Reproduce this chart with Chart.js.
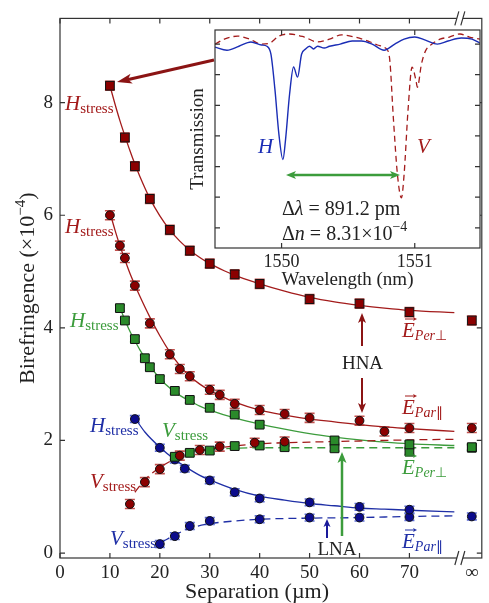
<!DOCTYPE html>
<html>
<head>
<meta charset="utf-8">
<script src="https://cdn.jsdelivr.net/npm/chart.js@4.4.0/dist/chart.umd.min.js"></script>
<style>
  html, body { margin: 0; padding: 0; background: #fff; }
  #wrap { position: relative; width: 489px; height: 603px; }
  #main { position: absolute; left: 0; top: 0; }
  #inset { position: absolute; left: 170px; top: 20px; }
</style>
</head>
<body>
<div id="wrap">
  <canvas id="main" width="489" height="603"></canvas>
  <canvas id="inset" width="319" height="280"></canvas>
</div>
<script>
// x position of the "infinity" column (after the axis break)
const INF = 82.5;

// ---- measured points (separation in um, birefringence x1e-4) ----
const redPerSep = [10, 13, 15, 18, 22, 26, 30, 35, 40, 50, 60, 70, INF];
const redPerH   = [8.30, 7.38, 6.87, 6.29, 5.74, 5.37, 5.14, 4.95, 4.78, 4.51, 4.43, 4.28, 4.13];

const redParSep = [10, 12, 13, 15, 18, 22, 24, 26, 30, 32, 35, 40, 45, 50, 60, 65, 70, INF];
const redParH   = [6.00, 5.46, 5.24, 4.75, 4.08, 3.53, 3.27, 3.14, 2.90, 2.81, 2.65, 2.54, 2.47, 2.40, 2.35, 2.16, 2.22, 2.22];

const redVSep = [14, 17, 20, 24, 28, 32, 39, 45];
const redV    = [0.87, 1.26, 1.49, 1.73, 1.83, 1.89, 1.96, 1.98];

const greenHSep = [12, 13, 15, 17, 18, 20, 23, 26, 30, 35, 40, 55, 70, INF];
const greenH    = [4.35, 4.13, 3.80, 3.46, 3.30, 3.09, 2.88, 2.72, 2.58, 2.46, 2.28, 2.00, 1.93, 1.88];

const greenVSep = [23, 26, 30, 35, 40, 45, 55, 70, INF];
const greenV    = [1.71, 1.78, 1.82, 1.90, 1.91, 1.88, 1.86, 1.80, 1.87];

const blueHSep = [15, 20, 23, 25, 30, 35, 40, 50, 60, 70, INF];
const blueH    = [2.38, 1.87, 1.66, 1.50, 1.29, 1.08, 0.97, 0.90, 0.82, 0.77, 0.65];

const blueVSep = [20, 23, 26, 30, 40, 50, 60, 70];
const blueV    = [0.16, 0.30, 0.48, 0.57, 0.60, 0.63, 0.63, 0.64];

// ---- fitted curves ----
const fitRedPerX = [10, 11, 12, 13, 14, 15, 16, 18, 20, 22, 24, 26, 28, 30, 33, 36, 40, 45, 50, 55, 60, 65, 70, 79];
const fitRedPerY = [8.30, 7.98, 7.68, 7.41, 7.15, 6.91, 6.69, 6.30, 5.99, 5.74, 5.54, 5.38, 5.25, 5.14, 5.01, 4.90, 4.78, 4.65, 4.54, 4.46, 4.40, 4.35, 4.31, 4.27];

const fitRedParX = [10, 11, 12, 13, 14, 15, 16, 18, 20, 22, 24, 26, 28, 30, 32, 35, 40, 45, 50, 55, 60, 65, 70, 79];
const fitRedParY = [6.05, 5.74, 5.46, 5.21, 4.97, 4.76, 4.56, 4.19, 3.86, 3.57, 3.33, 3.14, 3.00, 2.89, 2.80, 2.68, 2.54, 2.45, 2.38, 2.33, 2.28, 2.24, 2.21, 2.16];

const fitRedVX = [15, 17, 20, 24, 28, 32, 40, 50, 60, 70, 79];
const fitRedVY = [1.08, 1.30, 1.52, 1.71, 1.81, 1.87, 1.94, 1.97, 1.99, 2.01, 2.02];

const fitGreenHX = [12, 13, 14, 15, 16, 17, 18, 20, 22, 24, 26, 28, 30, 35, 40, 45, 50, 55, 60, 65, 70, 79];
const fitGreenHY = [4.36, 4.14, 3.94, 3.77, 3.61, 3.47, 3.33, 3.10, 2.93, 2.80, 2.70, 2.61, 2.54, 2.40, 2.29, 2.20, 2.12, 2.06, 2.01, 1.97, 1.94, 1.91];

const fitGreenVX = [23, 26, 30, 35, 40, 50, 60, 70, 79];
const fitGreenVY = [1.74, 1.80, 1.84, 1.86, 1.87, 1.87, 1.87, 1.87, 1.87];

const fitBlueHX = [15, 17, 20, 23, 25, 28, 30, 35, 40, 45, 50, 55, 60, 65, 70, 79];
const fitBlueHY = [2.40, 2.15, 1.88, 1.66, 1.54, 1.38, 1.30, 1.13, 1.01, 0.94, 0.88, 0.84, 0.80, 0.78, 0.76, 0.73];

const fitBlueVX = [20.5, 23, 26, 30, 35, 40, 50, 60, 70, 79];
const fitBlueVY = [0.20, 0.32, 0.44, 0.52, 0.57, 0.60, 0.62, 0.63, 0.65, 0.66];

const xTicks = [0, 10, 20, 30, 40, 50, 60, 70];
const yTicks = [0, 2, 4, 6, 8];

// ---- inset spectrum (wavelength nm, transmission a.u.) ----
const wlH = [1549.50, 1549.59, 1549.68, 1549.77, 1549.85, 1549.89, 1549.92, 1549.95, 1549.98, 1550.01, 1550.03, 1550.06, 1550.09, 1550.12, 1550.15, 1550.18, 1550.21, 1550.24, 1550.27, 1550.32, 1550.36, 1550.44, 1550.53, 1550.60, 1550.68, 1550.77, 1550.85, 1550.92, 1551.00, 1551.08, 1551.17, 1551.25, 1551.35, 1551.43, 1551.49];
const trH = [5.90, 5.80, 5.93, 6.07, 5.97, 5.93, 5.67, 4.52, 3.05, 2.23, 2.89, 4.36, 5.25, 4.92, 5.67, 5.84, 5.93, 5.84, 5.93, 5.87, 5.93, 6.00, 6.10, 6.10, 6.00, 5.80, 6.00, 6.16, 6.23, 6.13, 6.00, 6.10, 6.20, 6.16, 6.03];

const wlV = [1549.50, 1549.57, 1549.67, 1549.76, 1549.85, 1549.91, 1549.98, 1550.06, 1550.17, 1550.27, 1550.36, 1550.45, 1550.55, 1550.65, 1550.72, 1550.78, 1550.81, 1550.84, 1550.87, 1550.90, 1550.92, 1550.95, 1550.98, 1551.01, 1551.02, 1551.05, 1551.08, 1551.13, 1551.19, 1551.26, 1551.34, 1551.41, 1551.49];
const trV = [6.00, 6.16, 6.26, 6.16, 6.00, 6.03, 6.26, 6.33, 6.23, 6.07, 6.16, 6.30, 6.23, 6.10, 5.97, 5.87, 5.57, 3.54, 1.74, 0.98, 1.74, 3.87, 5.25, 4.79, 4.59, 5.34, 5.77, 6.00, 6.16, 6.23, 6.33, 6.23, 6.16];

const SERIF = "'Liberation Serif', 'Times New Roman', serif";
Chart.defaults.font.family = SERIF;

const RED = '#a31b1b', RED_FILL = '#8b0000', RED_ERR = '#c2504d';
const GREEN = '#3c9c3c', GREEN_FILL = '#2a8a2a', GREEN_ERR = '#7cc47c';
const BLUE = '#1f2fa6', BLUE_FILL = '#0b0b8c', BLUE_ERR = '#5a6ad6';

function pts(xs, ys) { return xs.map((x, i) => ({ x: x, y: ys[i] })); }

function markers(xs, ys, square, fill, err, errColor) {
  return {
    data: pts(xs, ys), showLine: false, order: 0,
    pointStyle: square ? 'rect' : 'circle', pointRadius: square ? 6.2 : 4.4,
    pointBackgroundColor: fill, pointBorderColor: '#111', pointBorderWidth: 1,
    err: err, errColor: errColor
  };
}
function fit(xs, ys, color, dashed) {
  return {
    data: pts(xs, ys), showLine: true, order: 1, pointRadius: 0,
    borderColor: color, borderWidth: 1.3, borderDash: dashed ? [8, 5] : [],
    cubicInterpolationMode: 'monotone', fill: false
  };
}

function arrowLine(ctx, x1, y1, x2, y2, col, w, hl, hw) {
  const a = Math.atan2(y2 - y1, x2 - x1), c = Math.cos(a), s = Math.sin(a);
  ctx.save();
  ctx.strokeStyle = col; ctx.fillStyle = col; ctx.lineWidth = w; ctx.setLineDash([]);
  ctx.beginPath(); ctx.moveTo(x1, y1); ctx.lineTo(x2 - c * hl * 0.7, y2 - s * hl * 0.7); ctx.stroke();
  ctx.beginPath(); ctx.moveTo(x2, y2);
  ctx.lineTo(x2 - c * hl - s * hw / 2, y2 - s * hl + c * hw / 2);
  ctx.lineTo(x2 - c * hl * 0.75, y2 - s * hl * 0.75);
  ctx.lineTo(x2 - c * hl + s * hw / 2, y2 - s * hl - c * hw / 2);
  ctx.closePath(); ctx.fill();
  ctx.restore();
}

// draw a row of text pieces: {t, size, it, dy}
function runs(ctx, x, y, parts, color, align) {
  ctx.save();
  ctx.fillStyle = color; ctx.textBaseline = 'alphabetic'; ctx.textAlign = 'left';
  let total = 0;
  parts.forEach(p => { ctx.font = (p.it ? 'italic ' : '') + p.size + 'px ' + SERIF; total += ctx.measureText(p.t).width; });
  let cx = align === 'center' ? x - total / 2 : x;
  parts.forEach(p => {
    ctx.font = (p.it ? 'italic ' : '') + p.size + 'px ' + SERIF;
    ctx.fillText(p.t, cx, y + (p.dy || 0));
    cx += ctx.measureText(p.t).width;
  });
  ctx.restore();
}

const errorBars = {
  id: 'errorBars',
  beforeDatasetsDraw(chart) {
    const ctx = chart.ctx, ys = chart.scales.y;
    chart.data.datasets.forEach((ds, i) => {
      if (!ds.err) return;
      ctx.save();
      ctx.strokeStyle = ds.errColor; ctx.lineWidth = 1.6;
      chart.getDatasetMeta(i).data.forEach((el, j) => {
        const v = ds.data[j].y;
        const y1 = ys.getPixelForValue(v + ds.err), y2 = ys.getPixelForValue(v - ds.err);
        ctx.beginPath();
        ctx.moveTo(el.x, y1); ctx.lineTo(el.x, y2);
        ctx.moveTo(el.x - 5, y1); ctx.lineTo(el.x + 5, y1);
        ctx.moveTo(el.x - 5, y2); ctx.lineTo(el.x + 5, y2);
        ctx.stroke();
      });
      ctx.restore();
    });
  }
};

const mainDeco = {
  id: 'mainDeco',
  afterDraw(chart) {
    const ctx = chart.ctx, a = chart.chartArea, sx = chart.scales.x, sy = chart.scales.y;
    ctx.save();
    ctx.strokeStyle = '#333'; ctx.lineWidth = 1.2;
    ctx.strokeRect(a.left, a.top, a.right - a.left, a.bottom - a.top);
    ctx.beginPath();
    xTicks.forEach(v => {
      const px = sx.getPixelForValue(v);
      ctx.moveTo(px, a.bottom); ctx.lineTo(px, a.bottom - 5);
      ctx.moveTo(px, a.top); ctx.lineTo(px, a.top + 5);
    });
    yTicks.forEach(v => {
      const py = sy.getPixelForValue(v);
      ctx.moveTo(a.left, py); ctx.lineTo(a.left + 5, py);
      ctx.moveTo(a.right, py); ctx.lineTo(a.right - 5, py);
    });
    ctx.stroke();
    // axis break marks
    const bx = sx.getPixelForValue(79.9);
    [a.top, a.bottom].forEach(yy => {
      ctx.fillStyle = '#fff';
      ctx.fillRect(bx - 2, yy - 2, 6, 4);
      ctx.beginPath();
      ctx.moveTo(bx - 4, yy + 7); ctx.lineTo(bx, yy - 7);
      ctx.moveTo(bx + 2, yy + 7); ctx.lineTo(bx + 6, yy - 7);
      ctx.stroke();
    });
    ctx.restore();

    // axis titles
    ctx.save();
    ctx.translate(26, (a.top + a.bottom) / 2);
    ctx.rotate(-Math.PI / 2);
    runs(ctx, 0, 8, [
      { t: 'Birefringence (\u00d710', size: 22 },
      { t: '\u22124', size: 15, dy: -9 },
      { t: ')', size: 22 }
    ], '#222', 'center');
    ctx.restore();
    runs(ctx, 257, 598, [{ t: 'Separation (\u00b5m)', size: 22 }], '#222', 'center');

    // series labels
    [
      ['H', 65, 110, RED], ['H', 65, 233, RED], ['H', 70, 327, GREEN], ['H', 90, 432, BLUE],
      ['V', 162, 437, GREEN], ['V', 90, 488, RED], ['V', 110, 545, BLUE]
    ].forEach(l => runs(ctx, l[1], l[2], [{ t: l[0], size: 21, it: true }, { t: 'stress', size: 15, dy: 3 }], l[3]));

    [
      ['Per', '\u22a5', 402, 337, RED], ['Par', '\u2225', 402, 414, RED],
      ['Per', '\u22a5', 402, 474, GREEN], ['Par', '\u2225', 402, 548, BLUE]
    ].forEach(l => {
      runs(ctx, l[2], l[3], [{ t: 'E', size: 21, it: true }, { t: l[0], size: 14, it: true, dy: 3 }, { t: l[1], size: 14, dy: 3 }], l[4]);
      arrowLine(ctx, l[2] + 3, l[3] - 18, l[2] + 15, l[3] - 18, l[4], 1, 4, 4);
    });

    runs(ctx, 362.5, 369, [{ t: 'HNA', size: 19 }], '#222', 'center');
    runs(ctx, 337, 555, [{ t: 'LNA', size: 19 }], '#222', 'center');

    // arrows
    arrowLine(ctx, 214, 60, 117, 82, '#8b1414', 3, 15, 10);
    arrowLine(ctx, 362, 346, 362, 313, '#8b1414', 2, 10, 8);
    arrowLine(ctx, 362, 378, 362, 413, '#8b1414', 2, 10, 8);
    arrowLine(ctx, 327, 538, 327, 519, '#1a1a9a', 2, 8, 7);
    arrowLine(ctx, 342, 536, 342, 452, GREEN, 2.5, 11, 9);
  }
};

new Chart(document.getElementById('main'), {
  type: 'scatter',
  data: {
    datasets: [
      fit(fitRedPerX, fitRedPerY, RED, false),
      fit(fitRedParX, fitRedParY, RED, false),
      fit(fitRedVX, fitRedVY, RED, true),
      fit(fitGreenHX, fitGreenHY, GREEN, false),
      fit(fitGreenVX, fitGreenVY, GREEN, true),
      fit(fitBlueHX, fitBlueHY, BLUE, false),
      fit(fitBlueVX, fitBlueVY, BLUE, true),
      markers(redPerSep, redPerH, true, RED_FILL, 0.08, RED_ERR),
      markers(redParSep, redParH, false, RED_FILL, 0.08, RED_ERR),
      markers(redVSep, redV, false, RED_FILL, 0.08, RED_ERR),
      markers(greenHSep, greenH, true, GREEN_FILL, 0.05, GREEN_ERR),
      markers(greenVSep, greenV, true, GREEN_FILL, 0.05, GREEN_ERR),
      markers(blueHSep, blueH, false, BLUE_FILL, 0.06, BLUE_ERR),
      markers(blueVSep, blueV, false, BLUE_FILL, 0.06, BLUE_ERR)
    ]
  },
  options: {
    responsive: false, animation: false, events: [],
    layout: { padding: { top: 15.5, right: 4, left: 0, bottom: 0 } },
    plugins: { legend: { display: false }, tooltip: { enabled: false } },
    scales: {
      x: {
        type: 'linear', min: 0, max: 84.5,
        afterBuildTicks: s => { s.ticks = xTicks.concat([INF]).map(v => ({ value: v })); },
        ticks: { callback: v => v === INF ? '\u221e' : String(v), padding: 4, autoSkip: false, maxRotation: 0, color: '#222', font: { size: 19 } },
        grid: { display: false, drawTicks: false }, border: { display: false },
        afterFit: s => { s.height = 45; }
      },
      y: {
        min: -0.088, max: 9.496,
        afterBuildTicks: s => { s.ticks = yTicks.map(v => ({ value: v })); },
        ticks: { padding: 7, color: '#222', font: { size: 19 } },
        grid: { display: false, drawTicks: false }, border: { display: false },
        afterFit: s => { s.width = 60; }
      }
    }
  },
  plugins: [errorBars, mainDeco]
});

// ---------------- inset ----------------
const insetDeco = {
  id: 'insetDeco',
  beforeDraw(chart) {
    const ctx = chart.ctx, a = chart.chartArea;
    ctx.save(); ctx.fillStyle = '#fff';
    ctx.fillRect(a.left, a.top, a.right - a.left, a.bottom - a.top);
    ctx.restore();
  },
  afterDraw(chart) {
    const ctx = chart.ctx, a = chart.chartArea, sx = chart.scales.x, sy = chart.scales.y;
    ctx.save();
    ctx.strokeStyle = '#333'; ctx.lineWidth = 1.2;
    ctx.strokeRect(a.left, a.top, a.right - a.left, a.bottom - a.top);
    ctx.beginPath();
    [1550, 1551].forEach(v => {
      const px = sx.getPixelForValue(v);
      ctx.moveTo(px, a.bottom); ctx.lineTo(px, a.bottom - 5);
      ctx.moveTo(px, a.top); ctx.lineTo(px, a.top + 5);
    });
    [0, 1, 2, 3, 4, 5, 6].forEach(v => {
      const py = sy.getPixelForValue(v);
      ctx.moveTo(a.left, py); ctx.lineTo(a.left + 5, py);
      ctx.moveTo(a.right, py); ctx.lineTo(a.right - 5, py);
    });
    ctx.stroke();
    ctx.restore();

    runs(ctx, 88, 133, [{ t: 'H', size: 21, it: true }], '#1a2db5');
    runs(ctx, 247, 133, [{ t: 'V', size: 21, it: true }], RED);

    arrowLine(ctx, 173, 155, 230, 155, GREEN, 2.5, 10, 8);
    arrowLine(ctx, 173, 155, 116, 155, GREEN, 2.5, 10, 8);

    runs(ctx, 112, 195, [{ t: '\u0394', size: 20 }, { t: '\u03bb', size: 20, it: true }, { t: ' = 891.2 pm', size: 20 }], '#222');
    runs(ctx, 112, 220, [{ t: '\u0394', size: 20 }, { t: 'n', size: 20, it: true }, { t: ' = 8.31\u00d710', size: 20 }, { t: '\u22124', size: 14, dy: -9 }], '#222');
  }
};

new Chart(document.getElementById('inset'), {
  type: 'scatter',
  data: {
    datasets: [
      { data: pts(wlH, trH), showLine: true, pointRadius: 0, borderColor: '#1a2db5', borderWidth: 1.4, cubicInterpolationMode: 'monotone' },
      { data: pts(wlV, trV), showLine: true, pointRadius: 0, borderColor: RED, borderWidth: 1.3, borderDash: [6, 4], cubicInterpolationMode: 'monotone' }
    ]
  },
  options: {
    responsive: false, animation: false, events: [],
    layout: { padding: { top: 10, right: 9, left: 0, bottom: 0 } },
    plugins: { legend: { display: false }, tooltip: { enabled: false } },
    scales: {
      x: {
        type: 'linear', min: 1549.5, max: 1551.49,
        afterBuildTicks: s => { s.ticks = [{ value: 1550 }, { value: 1551 }]; },
        ticks: { callback: v => String(v), padding: 3, autoSkip: false, maxRotation: 0, color: '#222', font: { size: 18 } },
        grid: { display: false, drawTicks: false }, border: { display: false },
        title: { display: true, text: 'Wavelength (nm)', color: '#222', font: { size: 19 }, padding: { top: 0, bottom: 9 } },
        afterFit: s => { s.height = 52; }
      },
      y: {
        min: -0.66, max: 6.46,
        ticks: { display: false },
        grid: { display: false, drawTicks: false }, border: { display: false },
        title: { display: true, text: 'Transmission', color: '#222', font: { size: 19 }, padding: { top: 17, bottom: 0 } },
        afterFit: s => { s.width = 45; }
      }
    }
  },
  plugins: [insetDeco]
});
</script>
</body>
</html>
